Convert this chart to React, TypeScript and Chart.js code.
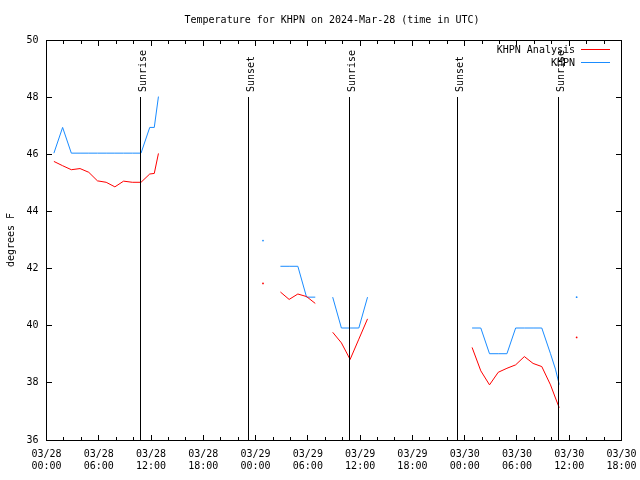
import React, { useEffect, useRef } from 'react';
import { Chart, registerables } from 'chart.js';

Chart.register(...registerables);

const FONT_FAMILY = '"DejaVu Sans Mono", "Liberation Mono", monospace';
const TITLE = 'Temperature for KHPN on 2024-Mar-28 (time in UTC)';
const Y_AXIS_TITLE = 'degrees F';
const SERIES_NAMES = ['KHPN Analysis', 'KHPN'];
const SERIES_COLORS = ['#ff0000', '#1a8cff'];

// x axis: hours since 03/28 00:00 UTC
const X_MIN_HOURS = 0;
const X_MAX_HOURS = 66;
const X_LABEL_STEP_HOURS = 6;
const X_MINOR_STEP_HOURS = 2;
const X_TICK_DATES = ['03/28', '03/28', '03/28', '03/28', '03/29', '03/29', '03/29', '03/29', '03/30', '03/30', '03/30', '03/30'];
const X_TICK_TIMES = ['00:00', '06:00', '12:00', '18:00', '00:00', '06:00', '12:00', '18:00', '00:00', '06:00', '12:00', '18:00'];

const Y_MIN = 36;
const Y_MAX = 50;
const Y_STEP = 2;

const SUN_EVENT_LABELS = ['Sunrise', 'Sunset', 'Sunrise', 'Sunset', 'Sunrise'];
const SUN_EVENT_HOURS = [10.78, 23.15, 34.75, 47.17, 58.72];
const SUN_LINE_TOP_VALUE = 48;

// Segment 1 (03/28 morning)
const SEG1_HOURS = [0.85, 1.85, 2.85, 3.85, 4.85, 5.85, 6.85, 7.85, 8.85, 9.85, 10.85, 11.85, 12.37, 12.85];
const SEG1_ANALYSIS = [45.75, 45.6, 45.46, 45.5, 45.37, 45.07, 45.02, 44.86, 45.06, 45.02, 45.02, 45.31, 45.33, 46.03];
const SEG1_OBS = [46.04, 46.94, 46.04, 46.04, 46.04, 46.04, 46.04, 46.04, 46.04, 46.04, 46.04, 46.94, 46.94, 48.02];

// Segment 2 (single reading)
const SEG2_HOURS = [24.85];
const SEG2_ANALYSIS = [41.48];
const SEG2_OBS = [42.98];

// Segment 3
const SEG3_HOURS = [26.85, 27.85, 28.85, 29.85, 30.85];
const SEG3_ANALYSIS = [41.18, 40.92, 41.11, 41.02, 40.78];
const SEG3_OBS = [42.08, 42.08, 42.08, 41.0, 41.0];

// Segment 4
const SEG4_HOURS = [32.85, 33.85, 34.85, 35.85, 36.85];
const SEG4_ANALYSIS = [39.77, 39.4, 38.82, 39.53, 40.24];
const SEG4_OBS = [41.0, 39.92, 39.92, 39.92, 41.0];

// Segment 5 (03/30 morning)
const SEG5_HOURS = [48.85, 49.85, 50.85, 51.85, 52.85, 53.85, 54.85, 55.85, 56.85, 57.85, 58.42, 58.85];
const SEG5_ANALYSIS = [39.24, 38.42, 37.93, 38.37, 38.51, 38.63, 38.92, 38.68, 38.57, 37.93, 37.47, 37.13];
const SEG5_OBS = [39.92, 39.92, 39.02, 39.02, 39.02, 39.92, 39.92, 39.92, 39.92, 39.02, 38.48, 37.94];

// Segment 6 (single reading)
const SEG6_HOURS = [60.85];
const SEG6_ANALYSIS = [39.59];
const SEG6_OBS = [41.0];

const SEGMENT_HOURS = [SEG1_HOURS, SEG2_HOURS, SEG3_HOURS, SEG4_HOURS, SEG5_HOURS, SEG6_HOURS];
const SEGMENT_ANALYSIS = [SEG1_ANALYSIS, SEG2_ANALYSIS, SEG3_ANALYSIS, SEG4_ANALYSIS, SEG5_ANALYSIS, SEG6_ANALYSIS];
const SEGMENT_OBS = [SEG1_OBS, SEG2_OBS, SEG3_OBS, SEG4_OBS, SEG5_OBS, SEG6_OBS];

function buildSeries(values: number[][]) {
  const data: { x: number; y: number | null }[] = [];
  const radii: number[] = [];
  SEGMENT_HOURS.forEach((hours, si) => {
    if (si > 0) {
      const prev = SEGMENT_HOURS[si - 1];
      data.push({ x: (prev[prev.length - 1] + hours[0]) / 2, y: null });
      radii.push(0);
    }
    hours.forEach((h, i) => {
      data.push({ x: h, y: values[si][i] });
      radii.push(hours.length === 1 ? 0.9 : 0);
    });
  });
  return { data, radii };
}

const decorPlugin = {
  id: 'decor',
  beforeDraw(chart: any) {
    const ctx = chart.ctx;
    ctx.save();
    ctx.fillStyle = '#ffffff';
    ctx.fillRect(0, 0, chart.width, chart.height);
    ctx.restore();
  },
  afterDraw(chart: any) {
    const { ctx, chartArea: a } = chart;
    const xs = chart.scales.x;
    const ys = chart.scales.y;
    const L = Math.floor(a.left);
    const R = Math.floor(a.right);
    const T = Math.floor(a.top);
    const B = Math.floor(a.bottom);
    ctx.save();
    ctx.fillStyle = '#000';
    // frame
    ctx.fillRect(L, T, R - L + 1, 1);
    ctx.fillRect(L, B, R - L + 1, 1);
    ctx.fillRect(L, T, 1, B - T + 1);
    ctx.fillRect(R, T, 1, B - T + 1);
    // x ticks (inward, mirrored)
    for (let h = X_MIN_HOURS; h <= X_MAX_HOURS + 1e-6; h += X_MINOR_STEP_HOURS) {
      const px = Math.floor(xs.getPixelForValue(h));
      const len = Math.abs(h / X_LABEL_STEP_HOURS - Math.round(h / X_LABEL_STEP_HOURS)) < 1e-6 ? 5 : 3;
      ctx.fillRect(px, B - len, 1, len);
      ctx.fillRect(px, T + 1, 1, len);
    }
    // y ticks (inward, mirrored)
    for (let v = Y_MIN; v <= Y_MAX + 1e-6; v += Y_STEP) {
      const py = Math.floor(ys.getPixelForValue(v));
      ctx.fillRect(L + 1, py, 5, 1);
      ctx.fillRect(R - 5, py, 5, 1);
    }
    // sunrise / sunset markers
    const lineTop = Math.floor(ys.getPixelForValue(SUN_LINE_TOP_VALUE));
    ctx.font = `10px ${FONT_FAMILY}`;
    SUN_EVENT_HOURS.forEach((h, i) => {
      const px = Math.floor(xs.getPixelForValue(h));
      ctx.fillRect(px, lineTop, 1, B - lineTop);
      ctx.save();
      ctx.translate(px + 6, lineTop - 5);
      ctx.rotate(-Math.PI / 2);
      ctx.textAlign = 'left';
      ctx.textBaseline = 'alphabetic';
      ctx.fillText(SUN_EVENT_LABELS[i], 0, 0);
      ctx.restore();
    });
    // title
    ctx.textAlign = 'center';
    ctx.textBaseline = 'alphabetic';
    ctx.fillText(TITLE, 332, 23);
    // y axis title
    ctx.save();
    ctx.translate(14, 240);
    ctx.rotate(-Math.PI / 2);
    ctx.textAlign = 'center';
    ctx.fillText(Y_AXIS_TITLE, 0, 0);
    ctx.restore();
    // legend
    const rows = [53, 66];
    SERIES_NAMES.forEach((name, i) => {
      ctx.fillStyle = '#000';
      ctx.textAlign = 'right';
      ctx.fillText(name, 575, rows[i]);
      ctx.fillStyle = SERIES_COLORS[i];
      ctx.fillRect(581, rows[i] - 4, 29, 1);
    });
    ctx.restore();
  },
};

export default function App() {
  const ref = useRef<HTMLCanvasElement>(null);
  useEffect(() => {
    const canvas = ref.current;
    if (!canvas) return;
    const analysis = buildSeries(SEGMENT_ANALYSIS);
    const obs = buildSeries(SEGMENT_OBS);
    const chart = new Chart(canvas, {
      type: 'line',
      data: {
        datasets: [
          {
            label: SERIES_NAMES[0],
            data: analysis.data,
            borderColor: SERIES_COLORS[0],
            backgroundColor: SERIES_COLORS[0],
            borderWidth: 1,
            pointRadius: analysis.radii,
            pointBorderWidth: 0,
            pointBackgroundColor: SERIES_COLORS[0],
            spanGaps: false,
            tension: 0,
            fill: false,
          },
          {
            label: SERIES_NAMES[1],
            data: obs.data,
            borderColor: SERIES_COLORS[1],
            backgroundColor: SERIES_COLORS[1],
            borderWidth: 1,
            pointRadius: obs.radii,
            pointBorderWidth: 0,
            pointBackgroundColor: SERIES_COLORS[1],
            spanGaps: false,
            tension: 0,
            fill: false,
          },
        ],
      },
      options: {
        animation: false,
        responsive: false,
        maintainAspectRatio: false,
        layout: { padding: { top: 40, right: 18.5, left: 0, bottom: 0 } },
        plugins: {
          legend: { display: false },
          title: { display: false },
          tooltip: { enabled: false },
        },
        scales: {
          x: {
            type: 'linear',
            min: X_MIN_HOURS,
            max: X_MAX_HOURS,
            grid: { display: false, drawTicks: false },
            border: { display: false },
            ticks: {
              stepSize: X_LABEL_STEP_HOURS,
              autoSkip: false,
              maxRotation: 0,
              minRotation: 0,
              color: '#000',
              padding: 8,
              font: { family: FONT_FAMILY, size: 10, lineHeight: 1.2 },
              callback: (value: any) => {
                const i = Math.round(Number(value) / X_LABEL_STEP_HOURS);
                if (Math.abs(Number(value) - i * X_LABEL_STEP_HOURS) > 1e-6) return '';
                return [X_TICK_DATES[i] ?? '', X_TICK_TIMES[i] ?? ''];
              },
            },
            afterFit: (s: any) => {
              s.height = 40;
              s.paddingLeft = 0;
              s.paddingRight = 0;
            },
          },
          y: {
            type: 'linear',
            min: Y_MIN,
            max: Y_MAX,
            grid: { display: false, drawTicks: false },
            border: { display: false },
            ticks: {
              stepSize: Y_STEP,
              color: '#000',
              padding: 8,
              font: { family: FONT_FAMILY, size: 10 },
              callback: (value: any) => String(value),
            },
            afterFit: (s: any) => {
              s.width = 46.5;
              s.paddingTop = 0;
              s.paddingBottom = 0;
            },
          },
        },
      },
      plugins: [decorPlugin],
    } as any);
    return () => chart.destroy();
  }, []);
  return (
    <div style={{ position: 'absolute', left: 0, top: 0, width: 640, height: 480, background: '#fff' }}>
      <canvas ref={ref} width={640} height={480} style={{ width: 640, height: 480, display: 'block' }} />
    </div>
  );
}
